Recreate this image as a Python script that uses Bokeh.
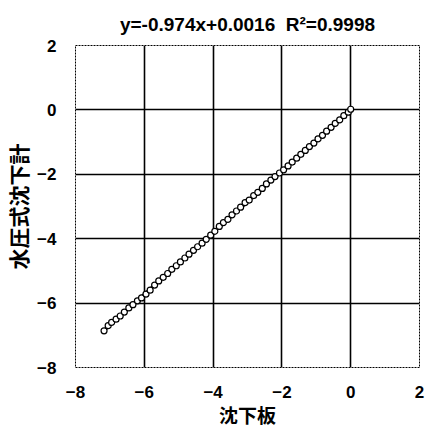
from bokeh.plotting import figure
from bokeh.models import FixedTicker, ColumnDataSource
from bokeh.embed import file_html
from bokeh.resources import INLINE
import numpy as np

# data
settle_plate = [-7.17, -7.05, -6.95, -6.82, -6.70, -6.58, -6.45, -6.33, -6.20, -6.08,
                -5.95, -5.83, -5.70, -5.58, -5.45, -5.32, -5.20, -5.07, -4.95, -4.82,
                -4.70, -4.57, -4.45, -4.32, -4.20, -4.07, -3.95, -3.82, -3.70, -3.57,
                -3.45, -3.32, -3.20, -3.07, -2.95, -2.82, -2.70, -2.57, -2.45, -2.32,
                -2.20, -2.07, -1.95, -1.82, -1.70, -1.57, -1.45, -1.32, -1.20, -1.07,
                -0.95, -0.82, -0.70, -0.57, -0.45, -0.32, -0.20, -0.07, 0.00]
water_gauge = [-6.86, -6.70, -6.60, -6.50, -6.40, -6.28, -6.15, -6.05, -5.93, -5.84,
               -5.72, -5.60, -5.44, -5.31, -5.20, -5.08, -4.95, -4.84, -4.72, -4.60,
               -4.48, -4.36, -4.25, -4.14, -4.02, -3.89, -3.77, -3.62, -3.50, -3.40,
               -3.26, -3.14, -3.02, -2.88, -2.80, -2.66, -2.56, -2.44, -2.30, -2.18,
               -2.07, -1.96, -1.86, -1.74, -1.62, -1.50, -1.38, -1.26, -1.14, -1.03,
               -0.90, -0.79, -0.66, -0.54, -0.42, -0.31, -0.18, -0.07, 0.02]
tick_values = [-8, -6, -4, -2, 0, 2]
tick_labels = ["−8", "−6", "−4", "−2", "0", "2"]
grid_values = [-6, -4, -2, 0]
title_text = "y=-0.974x+0.0016\u00a0\u00a0R²=0.9998"
x_title = "沈下板"
y_title = "水圧式沈下計"

W, H = 425, 430
p = figure(width=W, height=H, x_range=(-8, 2), y_range=(-8, 2),
           output_backend="svg", toolbar_location=None,
           min_border_left=73, min_border_right=W - 419,
           min_border_top=45, min_border_bottom=H - 368)

p.title.text = title_text
p.title.align = "center"
p.title.text_font = "Liberation Sans"
p.title.text_font_size = "19px"
p.title.text_font_style = "bold"
p.title.text_color = "black"
p.title.standoff = 21

p.outline_line_color = "black"
p.outline_line_dash = "2 1"
p.outline_line_width = 1

for ax in (p.xaxis[0], p.yaxis[0]):
    ax.ticker = FixedTicker(ticks=tick_values)
    ax.major_label_overrides = {v: l for v, l in zip(tick_values, tick_labels)}
    ax.axis_line_color = None
    ax.major_tick_line_color = None
    ax.minor_tick_line_color = None
    ax.major_tick_out = 0
    ax.major_tick_in = 0
    ax.major_label_text_font = "Liberation Sans"
    ax.major_label_text_font_style = "bold"
    ax.major_label_text_font_size = "17px"
    ax.major_label_text_color = "black"
    ax.axis_label_text_font = "Noto Sans CJK JP"
    ax.axis_label_text_font_style = "bold"
    ax.axis_label_text_color = "black"

p.xaxis.axis_label = x_title
p.xaxis.axis_label_text_font_size = "19px"
p.xaxis.major_label_standoff = 18
p.xaxis.axis_label_standoff = 0
p.yaxis.axis_label = y_title
p.yaxis.axis_label_text_font_size = "21px"
p.yaxis.major_label_standoff = 19
p.yaxis.axis_label_standoff = 1

p.xgrid.ticker = FixedTicker(ticks=grid_values)
p.ygrid.ticker = FixedTicker(ticks=grid_values)
for g in (p.xgrid[0], p.ygrid[0]):
    g.grid_line_color = "black"
    g.grid_line_width = 1.6
    g.grid_line_alpha = 1

xs = np.array(settle_plate)
ys = np.array(water_gauge)
slope, intercept = np.polyfit(xs, ys, 1)
fx = [xs.min(), xs.max()]
fy = [slope * v + intercept for v in fx]
p.line(fx, fy, line_color="black", line_width=3)

src = ColumnDataSource(dict(x=settle_plate, y=water_gauge))
p.scatter("x", "y", source=src, marker="circle", size=6, line_color="black",
          line_width=1.2, fill_color="white")

open("out.html", "w").write(file_html(p, INLINE))
